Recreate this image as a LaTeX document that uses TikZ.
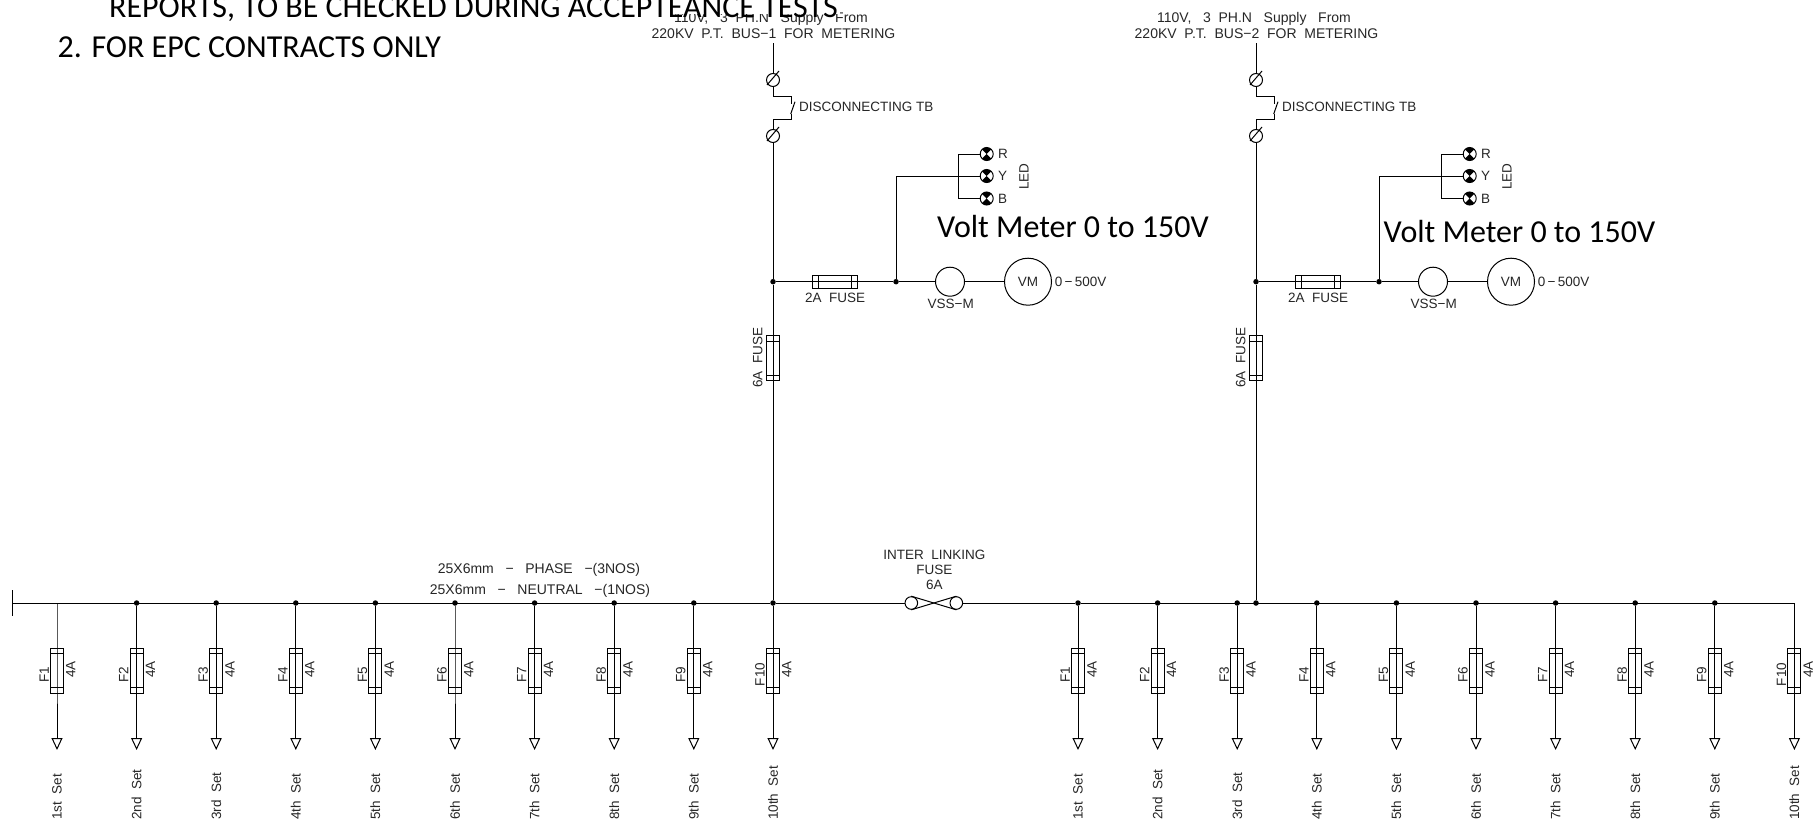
\documentclass[tikz,border=0pt]{standalone}
\usepackage{fontspec}
\setmainfont{Liberation Sans}
\newfontfamily\notefont{Carlito}
\usetikzlibrary{positioning, arrows.meta}

\begin{document}
\begin{tikzpicture}
    [
        x=1pt, y=-1pt,
        node distance=67.5pt and 79.6pt, on grid, label distance=2.5pt,
        wire/.style={line width=1pt, color=black},
        feed_wire/.style={wire, -{Triangle[open, length=12pt, width=11pt]}},
        cad_text/.style={font=\fontsize{13.5}{15}\selectfont, text=black!85, inner sep=0pt},
        wide_text/.style={font=\fontsize{14}{15}\selectfont, text=black!85, inner sep=0pt},
        note_text/.style={font=\notefont\fontsize{32}{36}\selectfont, inner sep=0pt},
        up_text/.style={cad_text, rotate=90},
        set_text/.style={up_text, anchor=west},
        fuse_left/.style={cad_text, xshift=-1pt, yshift=-1.5pt, rotate=90, anchor=south},
        fuse_right/.style={cad_text, xshift=2pt, yshift=-1.5pt, rotate=90, anchor=north},
        dot_node/.style={circle, fill=black, minimum size=5.5pt, inner sep=0pt},
        term_node/.style={circle, wire, draw, minimum size=13pt, inner sep=0pt},
        link_node/.style={circle, wire, draw, minimum size=12.6pt, inner sep=0pt},
        meter_node/.style={circle, wire, draw, cad_text, minimum size=#1},
        led_node/.style={circle, wire, draw, minimum size=13pt, inner sep=0pt,
            path picture={\fill (path picture bounding box.north west) -- (path picture bounding box.north east)
                -- (path picture bounding box.south west) -- (path picture bounding box.south east) -- cycle;}},
        v_fuse/.style={rectangle, wire, draw, minimum width=13pt, minimum height=45pt, inner sep=0pt,
            path picture={
                \draw[wire] ([yshift=-5.5pt]path picture bounding box.north west) -- ([yshift=-5.5pt]path picture bounding box.north east);
                \draw[wire] ([yshift=5.5pt]path picture bounding box.south west) -- ([yshift=5.5pt]path picture bounding box.south east);}},
        h_fuse/.style={rectangle, wire, draw, minimum width=45pt, minimum height=13pt, inner sep=0pt,
            path picture={
                \draw[wire] ([xshift=6pt]path picture bounding box.north west) -- ([xshift=6pt]path picture bounding box.south west);
                \draw[wire] ([xshift=-6pt]path picture bounding box.north east) -- ([xshift=-6pt]path picture bounding box.south east);}},
        fuse_node/.style={v_fuse, label={[fuse_left]west:F#1}, label={[fuse_right]east:4A}},
    ]
        \useasboundingbox (0,0) rectangle (1820,827);

        % left supply
        \coordinate (top1) at (773,43);
        \node[term_node] (upper1) at (773,80) {};
        \coordinate (sw_a1) at (773,96);
        \coordinate (sw_b1) at (791.7,96);
        \coordinate (sw_c1) at (791.7,104);
        \coordinate (sw_d1) at (791.7,114);
        \coordinate (sw_e1) at (791.7,119.3);
        \coordinate (sw_f1) at (773,119.3);
        \node[term_node] (lower1) at (773,136) {};
        \node[dot_node] (tee1) at (773,281.7) {};
        \node[h_fuse] (meter_fuse1) at (834.5,281.7) {};
        \node[dot_node] (tap1) at (896,281.7) {};
        \node[meter_node=29pt] (vss1) at (950,281.7) {};
        \node[meter_node=47pt] (vm1) at (1028,281.7) {VM};
        \node[v_fuse] (main_fuse1) at (773,358) {};
        \node[led_node] (led_r1) at (986.7,154) {};
        \node[led_node] (led_y1) at (986.7,176) {};
        \node[led_node] (led_b1) at (986.7,198.5) {};
        \coordinate (led_bus1) at (958,176);

        % right supply
        \coordinate[right = 483pt of top1] (top2);
        \node[term_node] (upper2) [right = 483pt of upper1] {};
        \coordinate[right = 483pt of sw_a1] (sw_a2);
        \coordinate[right = 483pt of sw_b1] (sw_b2);
        \coordinate[right = 483pt of sw_c1] (sw_c2);
        \coordinate[right = 483pt of sw_d1] (sw_d2);
        \coordinate[right = 483pt of sw_e1] (sw_e2);
        \coordinate[right = 483pt of sw_f1] (sw_f2);
        \node[term_node] (lower2) [right = 483pt of lower1] {};
        \node[dot_node] (tee2) [right = 483pt of tee1] {};
        \node[h_fuse] (meter_fuse2) [right = 483pt of meter_fuse1] {};
        \node[dot_node] (tap2) [right = 483pt of tap1] {};
        \node[meter_node=29pt] (vss2) [right = 483pt of vss1] {};
        \node[meter_node=47pt] (vm2) [right = 483pt of vm1] {VM};
        \node[v_fuse] (main_fuse2) [right = 483pt of main_fuse1] {};
        \node[led_node] (led_r2) [right = 483pt of led_r1] {};
        \node[led_node] (led_y2) [right = 483pt of led_y1] {};
        \node[led_node] (led_b2) [right = 483pt of led_b1] {};
        \coordinate[right = 483pt of led_bus1] (led_bus2);

        % left feeders
        \coordinate (bus_end) at (12,603);
        \coordinate (a1) at (57,603);
        \node[fuse_node=1] (fa1) [below = of a1, anchor=center] {};
        \coordinate[below = 79.5pt of fa1] (pa1);
        \node (sa1) [below = 149.5pt of fa1, set_text] {1st\ \ Set};
        \draw[feed_wire] (a1) -- (fa1.center) -- (pa1);

        \node[dot_node] (a2) [right = of a1, anchor=center] {};
        \node[fuse_node=2] (fa2) [below = of a2] {};
        \coordinate[below = 79.5pt of fa2] (pa2);
        \node (sa2) [below = 149.5pt of fa2, set_text] {2nd\ \ Set};
        \draw[feed_wire] (a2) -- (fa2.center) -- (pa2);

        \node[dot_node] (a3) [right = of a2] {};
        \node[fuse_node=3] (fa3) [below = of a3] {};
        \coordinate[below = 79.5pt of fa3] (pa3);
        \node (sa3) [below = 149.5pt of fa3, set_text] {3rd\ \ Set};
        \draw[feed_wire] (a3) -- (fa3.center) -- (pa3);

        \node[dot_node] (a4) [right = of a3] {};
        \node[fuse_node=4] (fa4) [below = of a4] {};
        \coordinate[below = 79.5pt of fa4] (pa4);
        \node (sa4) [below = 149.5pt of fa4, set_text] {4th\ \ Set};
        \draw[feed_wire] (a4) -- (fa4.center) -- (pa4);

        \node[dot_node] (a5) [right = of a4] {};
        \node[fuse_node=5] (fa5) [below = of a5] {};
        \coordinate[below = 79.5pt of fa5] (pa5);
        \node (sa5) [below = 149.5pt of fa5, set_text] {5th\ \ Set};
        \draw[feed_wire] (a5) -- (fa5.center) -- (pa5);

        \node[dot_node] (a6) [right = of a5] {};
        \node[fuse_node=6] (fa6) [below = of a6] {};
        \coordinate[below = 79.5pt of fa6] (pa6);
        \node (sa6) [below = 149.5pt of fa6, set_text] {6th\ \ Set};
        \draw[feed_wire] (a6) -- (fa6.center) -- (pa6);

        \node[dot_node] (a7) [right = of a6] {};
        \node[fuse_node=7] (fa7) [below = of a7] {};
        \coordinate[below = 79.5pt of fa7] (pa7);
        \node (sa7) [below = 149.5pt of fa7, set_text] {7th\ \ Set};
        \draw[feed_wire] (a7) -- (fa7.center) -- (pa7);

        \node[dot_node] (a8) [right = of a7] {};
        \node[fuse_node=8] (fa8) [below = of a8] {};
        \coordinate[below = 79.5pt of fa8] (pa8);
        \node (sa8) [below = 149.5pt of fa8, set_text] {8th\ \ Set};
        \draw[feed_wire] (a8) -- (fa8.center) -- (pa8);

        \node[dot_node] (a9) [right = of a8] {};
        \node[fuse_node=9] (fa9) [below = of a9] {};
        \coordinate[below = 79.5pt of fa9] (pa9);
        \node (sa9) [below = 149.5pt of fa9, set_text] {9th\ \ Set};
        \draw[feed_wire] (a9) -- (fa9.center) -- (pa9);

        \node[dot_node] (a10) at (773,603) {};
        \node[fuse_node=10] (fa10) [below = of a10] {};
        \coordinate[below = 79.5pt of fa10] (pa10);
        \node (sa10) [below = 149.5pt of fa10, set_text] {10th\ \ Set};
        \draw[feed_wire] (a10) -- (fa10.center) -- (pa10);

        % right feeders
        \node[dot_node] (b1) at (1078,603) {};
        \node[fuse_node=1] (fb1) [below = of b1] {};
        \coordinate[below = 79.5pt of fb1] (pb1);
        \node (sb1) [below = 149.5pt of fb1, set_text] {1st\ \ Set};
        \draw[feed_wire] (b1) -- (fb1.center) -- (pb1);

        \node[dot_node] (b2) [right = of b1] {};
        \node[fuse_node=2] (fb2) [below = of b2] {};
        \coordinate[below = 79.5pt of fb2] (pb2);
        \node (sb2) [below = 149.5pt of fb2, set_text] {2nd\ \ Set};
        \draw[feed_wire] (b2) -- (fb2.center) -- (pb2);

        \node[dot_node] (b3) [right = of b2] {};
        \node[fuse_node=3] (fb3) [below = of b3] {};
        \coordinate[below = 79.5pt of fb3] (pb3);
        \node (sb3) [below = 149.5pt of fb3, set_text] {3rd\ \ Set};
        \draw[feed_wire] (b3) -- (fb3.center) -- (pb3);

        \node[dot_node] (b4) [right = of b3] {};
        \node[fuse_node=4] (fb4) [below = of b4] {};
        \coordinate[below = 79.5pt of fb4] (pb4);
        \node (sb4) [below = 149.5pt of fb4, set_text] {4th\ \ Set};
        \draw[feed_wire] (b4) -- (fb4.center) -- (pb4);

        \node[dot_node] (b5) [right = of b4] {};
        \node[fuse_node=5] (fb5) [below = of b5] {};
        \coordinate[below = 79.5pt of fb5] (pb5);
        \node (sb5) [below = 149.5pt of fb5, set_text] {5th\ \ Set};
        \draw[feed_wire] (b5) -- (fb5.center) -- (pb5);

        \node[dot_node] (b6) [right = of b5] {};
        \node[fuse_node=6] (fb6) [below = of b6] {};
        \coordinate[below = 79.5pt of fb6] (pb6);
        \node (sb6) [below = 149.5pt of fb6, set_text] {6th\ \ Set};
        \draw[feed_wire] (b6) -- (fb6.center) -- (pb6);

        \node[dot_node] (b7) [right = of b6] {};
        \node[fuse_node=7] (fb7) [below = of b7] {};
        \coordinate[below = 79.5pt of fb7] (pb7);
        \node (sb7) [below = 149.5pt of fb7, set_text] {7th\ \ Set};
        \draw[feed_wire] (b7) -- (fb7.center) -- (pb7);

        \node[dot_node] (b8) [right = of b7] {};
        \node[fuse_node=8] (fb8) [below = of b8] {};
        \coordinate[below = 79.5pt of fb8] (pb8);
        \node (sb8) [below = 149.5pt of fb8, set_text] {8th\ \ Set};
        \draw[feed_wire] (b8) -- (fb8.center) -- (pb8);

        \node[dot_node] (b9) [right = of b8] {};
        \node[fuse_node=9] (fb9) [below = of b9] {};
        \coordinate[below = 79.5pt of fb9] (pb9);
        \node (sb9) [below = 149.5pt of fb9, set_text] {9th\ \ Set};
        \draw[feed_wire] (b9) -- (fb9.center) -- (pb9);

        \coordinate[right = 79.6pt of b9] (b10);
        \node[fuse_node=10] (fb10) [below = of b10, anchor=center] {};
        \coordinate[below = 79.5pt of fb10] (pb10);
        \node (sb10) [below = 149.5pt of fb10, set_text] {10th\ \ Set};
        \draw[feed_wire] (b10) -- (fb10.center) -- (pb10);

        % bus and inter linking fuse
        \node[dot_node] (tee3) [right = 483pt of a10] {};
        \node[link_node] (link1) at (911.3,603) {};
        \node[link_node] (link2) at (956.3,603) {};
        \coordinate (end_a) at (12,590);
        \coordinate (end_b) at (12,616);
        \draw[wire] (end_a) -- (end_b);
        \draw[wire] (bus_end) -- (a10) -- (link1);
        \draw[wire] (link2) -- (b1) -- (b10);
        \draw[wire] (link1.north) -- (link2.south);
        \draw[wire] (link1.south) -- (link2.north);

        % supply wiring
        \draw[wire] (top1) -- (upper1);
        \draw[wire] (upper1) -- (sw_a1) -- (sw_b1) -- (sw_c1);
        \draw[wire] (sw_d1) -- (sw_e1) -- (sw_f1) -- (lower1);
        \draw[wire] (lower1) -- (tee1);
        \draw[wire] (tee1) -- (main_fuse1.center) -- (a10);
        \draw[wire] (tee1) -- (meter_fuse1.center) -- (tap1);
        \draw[wire] (tap1) -- (vss1);
        \draw[wire] (vss1) -- (vm1);
        \draw[wire] (tap1) |- (led_y1);
        \draw[wire] (led_r1) -| (led_bus1) |- (led_b1);
        \draw[wire] (upper1.center) ++(-6,5) -- ++(12,-14);
        \draw[wire] (lower1.center) ++(-6,5) -- ++(12,-14);
        \draw[wire] (sw_d1) ++(-1,0) -- ++(4.3,-12.3);

        \draw[wire] (top2) -- (upper2);
        \draw[wire] (upper2) -- (sw_a2) -- (sw_b2) -- (sw_c2);
        \draw[wire] (sw_d2) -- (sw_e2) -- (sw_f2) -- (lower2);
        \draw[wire] (lower2) -- (tee2);
        \draw[wire] (tee2) -- (main_fuse2.center) -- (tee3);
        \draw[wire] (tee2) -- (meter_fuse2.center) -- (tap2);
        \draw[wire] (tap2) -- (vss2);
        \draw[wire] (vss2) -- (vm2);
        \draw[wire] (tap2) |- (led_y2);
        \draw[wire] (led_r2) -| (led_bus2) |- (led_b2);
        \draw[wire] (upper2.center) ++(-6,5) -- ++(12,-14);
        \draw[wire] (lower2.center) ++(-6,5) -- ++(12,-14);
        \draw[wire] (sw_d2) ++(-1,0) -- ++(4.3,-12.3);

        % labels
        \node[wide_text] (supply1) at (771,19) {110V,\ \ \ 3\ \ PH.N\ \ \ Supply\ \ \ From};
        \node[wide_text] (metering1) at (773.5,34) {220KV\ \ P.T.\ \ BUS−1\ \ FOR\ \ METERING};
        \node[wide_text] (supply2) [right = 483pt of supply1] {110V,\ \ \ 3\ \ PH.N\ \ \ Supply\ \ \ From};
        \node[wide_text] (metering2) [right = 483pt of metering1] {220KV\ \ P.T.\ \ BUS−2\ \ FOR\ \ METERING};
        \node[cad_text, anchor=west] (disc1) at (799,106.7) {DISCONNECTING TB};
        \node (disc2) [right = 483pt of disc1.west, cad_text, anchor=west] {DISCONNECTING TB};
        \node[cad_text, anchor=west] (r1) at (998,154) {R};
        \node[cad_text, anchor=west] (y1) at (998,176) {Y};
        \node[cad_text, anchor=west] (b1t) at (998,198.5) {B};
        \node (r2) [right = 483pt of r1.west, cad_text, anchor=west] {R};
        \node (y2) [right = 483pt of y1.west, cad_text, anchor=west] {Y};
        \node (b2t) [right = 483pt of b1t.west, cad_text, anchor=west] {B};
        \node[up_text] (led1) at (1024,176.7) {LED};
        \node[up_text] (led2) [right = 483pt of led1] {LED};
        \node[cad_text] (fuse_two1) at (835,297.7) {2A\ \ FUSE};
        \node[cad_text] (fuse_two2) [right = 483pt of fuse_two1] {2A\ \ FUSE};
        \node[cad_text] (vss_m1) at (950.7,304) {VSS−M};
        \node[cad_text] (vss_m2) [right = 483pt of vss_m1] {VSS−M};
        \node[cad_text, anchor=west] (range1) at (1054.7,281.7) {0\,−\,500V};
        \node (range2) [right = 483pt of range1.west, cad_text, anchor=west] {0\,−\,500V};
        \node[up_text] (fuse_six1) at (757.7,357.5) {6A\ \ FUSE};
        \node[up_text] (fuse_six2) [right = 483pt of fuse_six1] {6A\ \ FUSE};
        \node[wide_text] (phase) at (539,569.5) {25X6mm\ \ \ −\ \ \ PHASE\ \ \ −(3NOS)};
        \node[wide_text] (neutral) at (540,590.5) {25X6mm\ \ \ −\ \ \ NEUTRAL\ \ \ −(1NOS)};
        \node[cad_text] (inter) at (934.3,555) {INTER\ \ LINKING};
        \node[cad_text] (inter_fuse) at (934.3,570) {FUSE};
        \node[cad_text] (inter_amp) at (934.3,585) {6A};

        % notes
        \node[note_text, anchor=west] (volt1) at (937,227) {Volt Meter 0 to 150V};
        \node[note_text, anchor=west] (volt2) at (1383.5,232) {Volt Meter 0 to 150V};
        \fill[white] (105,0) rectangle (840,14);
        \node[note_text, anchor=base west] (note1) at (109,17) {REPORTS, TO BE CHECKED DURING ACCEPTEANCE TESTS};
        \node[note_text, anchor=west] (note2) at (57.4,47.7) {2. FOR EPC CONTRACTS ONLY};
    \end{tikzpicture}
\end{document}
